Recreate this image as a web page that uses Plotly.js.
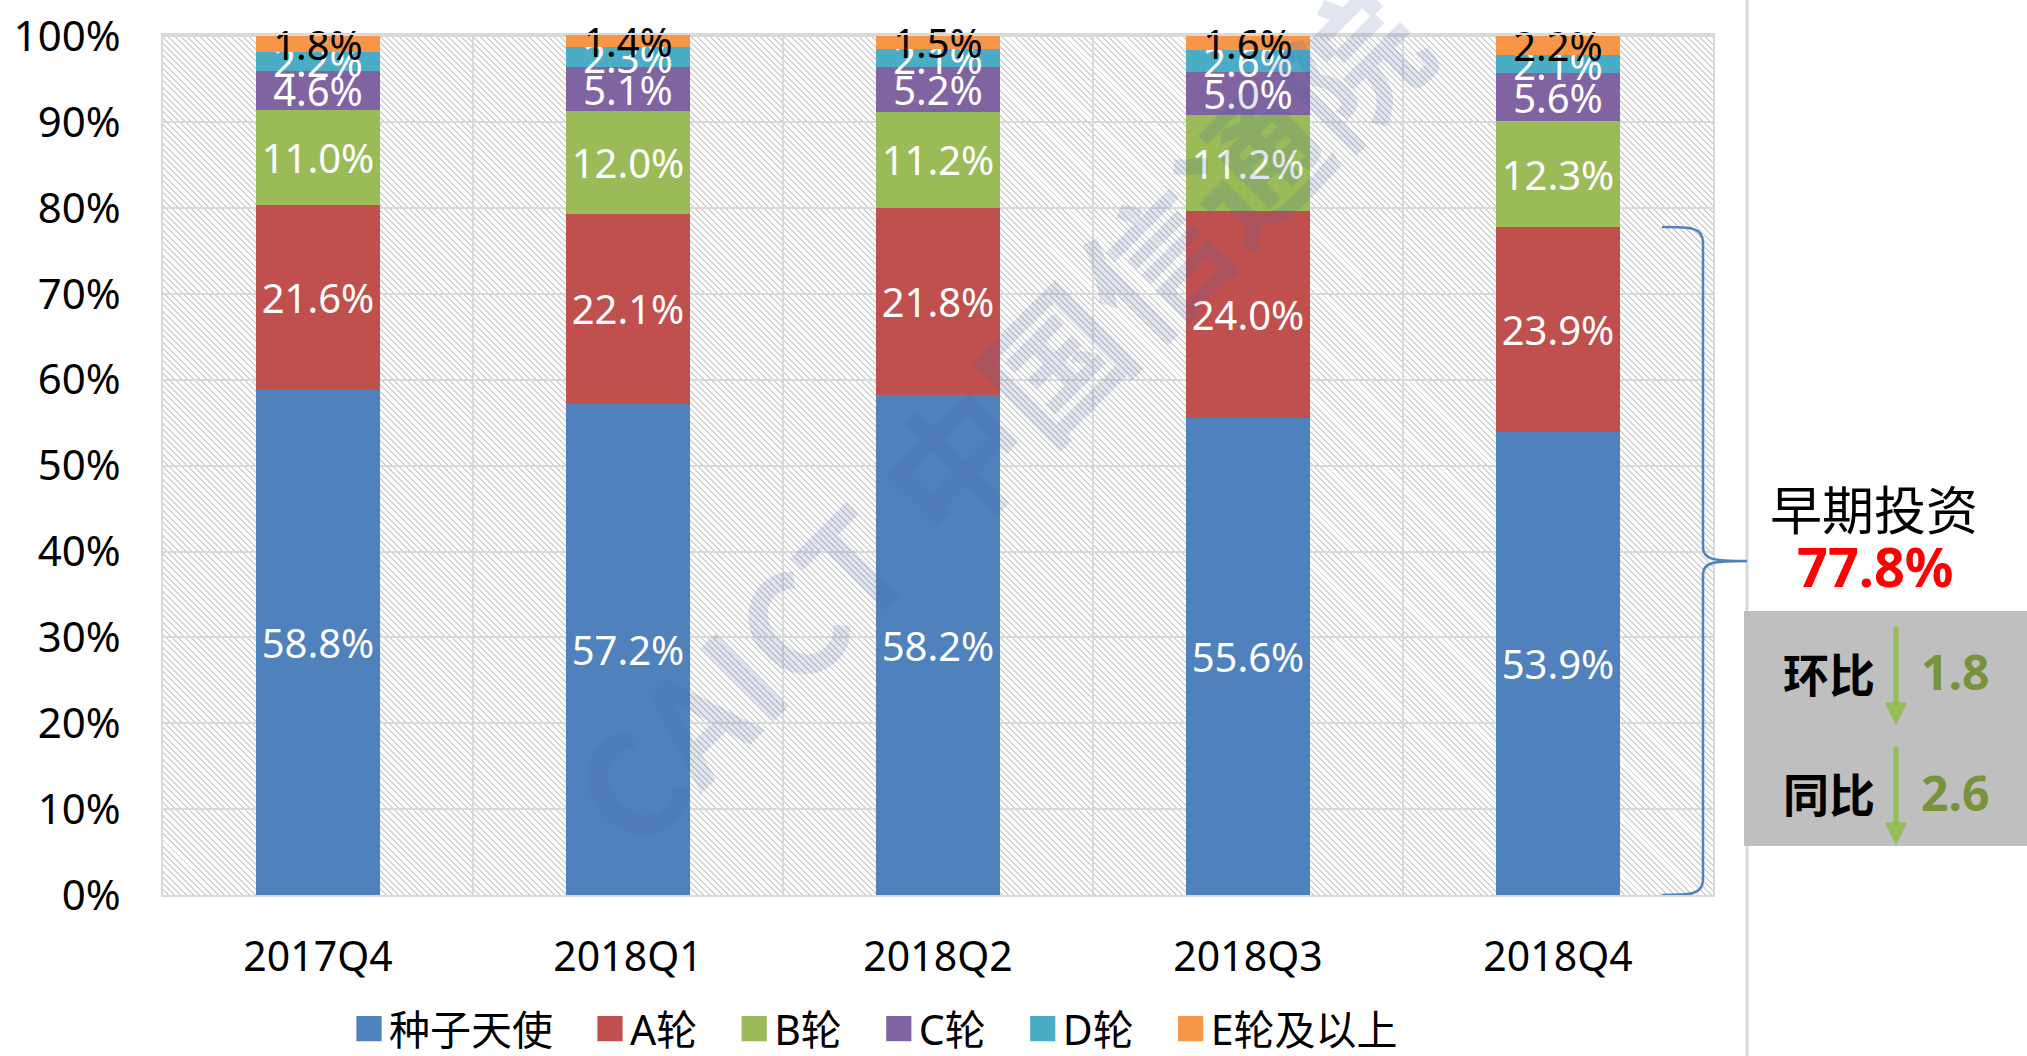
<!DOCTYPE html>
<html>
<head>
<meta charset="utf-8">
<script src="https://cdn.plot.ly/plotly-3.0.1.min.js"></script>
<style>
  html, body { margin: 0; padding: 0; background: #ffffff; }
  #wrap { position: relative; width: 2027px; height: 1056px; overflow: hidden; }
  #hatch {
    position: absolute; left: 163px; top: 35px; width: 1550px; height: 860px;
    background: repeating-linear-gradient(45deg, #ffffff 0px, #ffffff 3px, #d2d2d2 3px, #d2d2d2 4.4px);
  }
  #chart { position: absolute; left: 0; top: 0; width: 2027px; height: 1056px; }
</style>
</head>
<body>
<div id="wrap">
  <div id="hatch"></div>
  <div id="chart"></div>
</div>
<script>
// ---- data ----
var quarters = ["2017Q4", "2018Q1", "2018Q2", "2018Q3", "2018Q4"];
var seedAngel = [58.8, 57.2, 58.2, 55.6, 53.9];
var roundA    = [21.6, 22.1, 21.8, 24.0, 23.9];
var roundB    = [11.0, 12.0, 11.2, 11.2, 12.3];
var roundC    = [4.6, 5.1, 5.2, 5.0, 5.6];
var roundD    = [2.2, 2.3, 2.1, 2.6, 2.1];
var roundE    = [1.8, 1.4, 1.5, 1.6, 2.2];
var seriesNames = ["种子天使", "A轮", "B轮", "C轮", "D轮", "E轮及以上"];
var yTickVals = [0, 10, 20, 30, 40, 50, 60, 70, 80, 90, 100];
var earlyLabel = "早期投资";
var qoqLabel = "环比";
var yoyLabel = "同比";
var watermark = "CAICT 中国信通院";

// ---- derived ----
var early = seedAngel.map(function (v, i) { return Math.round((v + roundA[i]) * 10) / 10; });
var last = early.length - 1;
var earlyNow = early[last];
var qoq = Math.round((early[last - 1] - earlyNow) * 10) / 10;
var yoy = Math.round((early[0] - earlyNow) * 10) / 10;

var colors = ["#4F81BD", "#C0504D", "#9BBB59", "#8064A2", "#4BACC6", "#F79646"];
var textColors = ["#ffffff", "#ffffff", "#ffffff", "#ffffff", "#ffffff", "#000000"];
var allSeries = [seedAngel, roundA, roundB, roundC, roundD, roundE];

var FONT = "Noto Sans, Noto Sans CJK SC, sans-serif";
var CJK = "Noto Sans CJK SC, Noto Sans, sans-serif";
var PAD = "\u00a0\u00a0\u00a0";

var traces = allSeries.map(function (vals, i) {
  return {
    type: "bar",
    name: seriesNames[i] + (i < allSeries.length - 1 ? PAD : ""),
    x: quarters,
    y: vals,
    marker: { color: colors[i], line: { width: 0 } },
    texttemplate: "%{y:.1f}%",
    textposition: "inside",
    insidetextanchor: "middle",
    textangle: 0,
    constraintext: "none",
    cliponaxis: false,
    textfont: { family: FONT, size: 40, color: textColors[i] },
    hoverinfo: "skip"
  };
});

// ---- geometry helpers (paper coords) ----
var L = 163, R = 1713, T = 35, B = 895, W = 2027, H = 1056;
function px(x) { return (x - L) / (R - L); }
function py(y) { return (B - y) / (B - T); }

var xh = px(1662), xv = px(1703), xt = px(1747);
var E = earlyNow, M = earlyNow / 2;
var bracePath =
  "M " + xh + "," + E +
  " C " + px(1690) + "," + E + " " + xv + "," + E + " " + xv + "," + (E - 1.8) +
  " L " + xv + "," + (M + 1.6) +
  " C " + xv + "," + (M + 0.2) + " " + px(1712) + "," + M + " " + xt + "," + M +
  " C " + px(1712) + "," + M + " " + xv + "," + (M - 0.2) + " " + xv + "," + (M - 1.6) +
  " L " + xv + "," + 1.8 +
  " C " + xv + "," + 0 + " " + px(1690) + "," + 0 + " " + xh + "," + 0;

function note(x, y, text, font) {
  return { xref: "paper", yref: "paper", x: px(x), y: py(y), xanchor: "center", yanchor: "middle",
    text: text, showarrow: false, font: font };
}
function arrow(x, yTip) {
  return { xref: "paper", yref: "paper", x: px(x), y: py(yTip), text: "", showarrow: true,
    axref: "pixel", ayref: "pixel", ax: 0, ay: -100,
    arrowhead: 2, arrowsize: 0.9, arrowwidth: 5, arrowcolor: "#94BD55" };
}

var layout = {
  width: W, height: H, autosize: false,
  margin: { l: L, r: W - R, t: T, b: H - B, pad: 0, autoexpand: false },
  paper_bgcolor: "rgba(0,0,0,0)",
  plot_bgcolor: "rgba(0,0,0,0)",
  barmode: "stack",
  bargap: 0.6,
  font: { family: FONT, color: "#000000" },
  uniformtext: { mode: "show", minsize: 40 },
  showlegend: true,
  legend: {
    orientation: "h", x: px(357) - 8 / (R - L), xanchor: "left", y: py(1029), yanchor: "middle",
    font: { family: FONT, size: 41, color: "#000000" },
    traceorder: "normal", bgcolor: "rgba(0,0,0,0)"
  },
  xaxis: {
    type: "category", tickson: "boundaries", showgrid: true,
    gridcolor: "#D9D9D9", gridwidth: 2,
    showline: true, mirror: true, linecolor: "#D9D9D9", linewidth: 2,
    ticks: "", ticklabelstandoff: 25,
    tickfont: { family: FONT, size: 41, color: "#000000" },
    fixedrange: true
  },
  yaxis: {
    range: [0, 100.15], tickvals: yTickVals, ticktext: yTickVals.map(function (v) { return v + "%"; }),
    showgrid: true, gridcolor: "#D9D9D9", gridwidth: 2, zeroline: false,
    showline: true, mirror: true, linecolor: "#D9D9D9", linewidth: 2,
    ticks: "", ticklabelstandoff: 32,
    tickfont: { family: FONT, size: 42, color: "#000000" },
    fixedrange: true
  },
  shapes: [
    { type: "line", xref: "paper", yref: "paper", x0: xt, x1: xt, y0: py(H + 5), y1: py(-5),
      line: { color: "#D9D9D9", width: 3 } },
    { type: "path", xref: "paper", yref: "y", path: bracePath,
      line: { color: "#4F81BD", width: 2.5 } },
    { type: "rect", xref: "paper", yref: "paper", x0: px(1744), x1: px(2030), y0: py(846), y1: py(611),
      fillcolor: "#BFBFBF", line: { width: 0 } }
  ],
  annotations: [
    { xref: "paper", yref: "paper", x: px(995), y: py(414), xanchor: "center", yanchor: "middle",
      text: "<b>" + watermark + "</b>",
      showarrow: false, textangle: -45, font: { family: CJK, size: 140, color: "rgba(70,100,165,0.17)" } },
    note(1874, 507, earlyLabel, { family: CJK, size: 52, color: "#000000" }),
    note(1875, 566, "<b>" + earlyNow.toFixed(1) + "%</b>", { family: FONT, size: 54, color: "#FF0000" }),
    note(1829, 672, "<b>" + qoqLabel + "</b>", { family: CJK, size: 46, color: "#000000" }),
    note(1955, 671, "<b>" + qoq.toFixed(1) + "</b>", { family: FONT, size: 48, color: "#77933C" }),
    note(1829, 792, "<b>" + yoyLabel + "</b>", { family: CJK, size: 46, color: "#000000" }),
    note(1955, 792, "<b>" + yoy.toFixed(1) + "</b>", { family: FONT, size: 48, color: "#77933C" }),
    arrow(1896, 725),
    arrow(1896, 845)
  ]
};

Plotly.newPlot("chart", traces, layout, { displayModeBar: false, staticPlot: true }).then(function (gd) {
  var pts = gd.querySelectorAll(".legend .legendpoints path");
  pts.forEach(function (p) {
    var t = p.getAttribute("transform") || "";
    p.setAttribute("transform", (t + " scale(2.1)").trim());
  });
});
</script>
</body>
</html>
